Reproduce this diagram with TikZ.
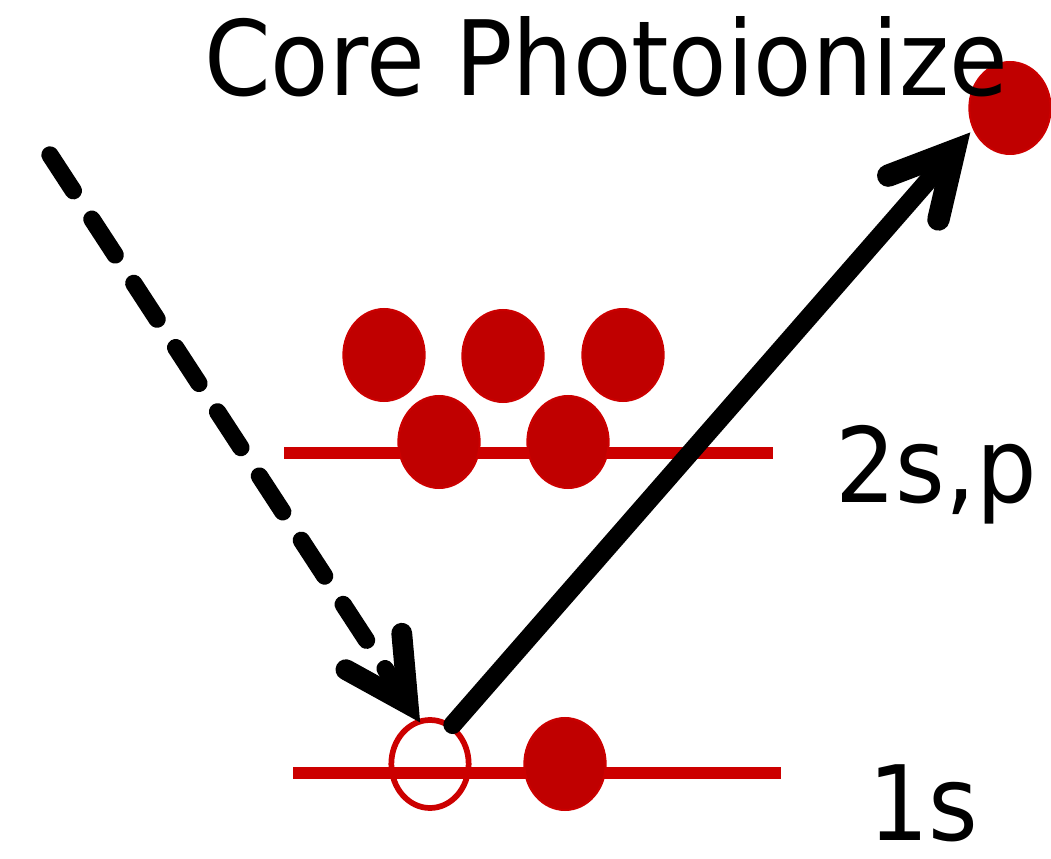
\documentclass[tikz,border=0pt]{standalone}
\usepackage{fontspec}
\newfontfamily\levelfont[FakeStretch=1.02]{DejaVu Sans Condensed}
\usetikzlibrary{arrows.meta,shapes.geometric}
\definecolor{elecred}{RGB}{192,0,0}
\definecolor{linered}{RGB}{204,0,0}

\begin{document}
\begin{tikzpicture}[x=0.75pt,y=-0.75pt,
  every node/.style={font=\levelfont\fontsize{78}{80}\selectfont},
  electron/.style={ellipse,fill=elecred,draw=linered,line width=1.5pt,minimum width=61pt,minimum height=69pt,inner sep=0pt},
  hole/.style={ellipse,draw=linered,line width=4.3pt,minimum width=58pt,minimum height=66pt,inner sep=0pt},
  level/.style={linered,line width=9pt},
  barb/.tip={Straight Barb[length=47pt,width=50pt,line width=0pt 1.2,line cap=round,line join=miter]},
  beam/.style={line width=13pt,line cap=round,dash pattern=on 32pt off 25.5pt,-barb},
  eject/.style={line width=14pt,line cap=round,-barb}]
\useasboundingbox (0,0) rectangle (1051,859);
% energy levels
\coordinate (lvl2a) at (284,453);
\coordinate (lvl2b) at (773,453);
\coordinate (lvl1a) at (293,773);
\coordinate (lvl1b) at (781,773);
\draw[level] (lvl2a) -- (lvl2b);
\draw[level] (lvl1a) -- (lvl1b);
% electrons
\node[electron] (p1) at (384,355) {};
\node[electron] (p2) at (503,356) {};
\node[electron] (p3) at (623,355) {};
\node[electron] (s2a) at (439,442) {};
\node[electron] (s2b) at (568,442) {};
\node[hole] (hole) at (430,764) {};
\node[electron] (s1) at (565,764) {};
\node[electron] (free) at (1010,108) {};
% labels
\node[anchor=base west,inner sep=0pt] (title) at (204,96) {Core Photoionize};
\node[anchor=base west,inner sep=0pt] (l2) at (835,503) {2s,p};
\node[anchor=base west,inner sep=0pt] (l1) at (868,840) {1s};
% photon in, electron out
\coordinate (photon) at (50,155);
\draw[beam,shorten >=-3pt] (photon) -- (hole.105);
\draw[eject,shorten >=3pt] (hole.60) -- (free.210);
\end{tikzpicture}
\end{document}
